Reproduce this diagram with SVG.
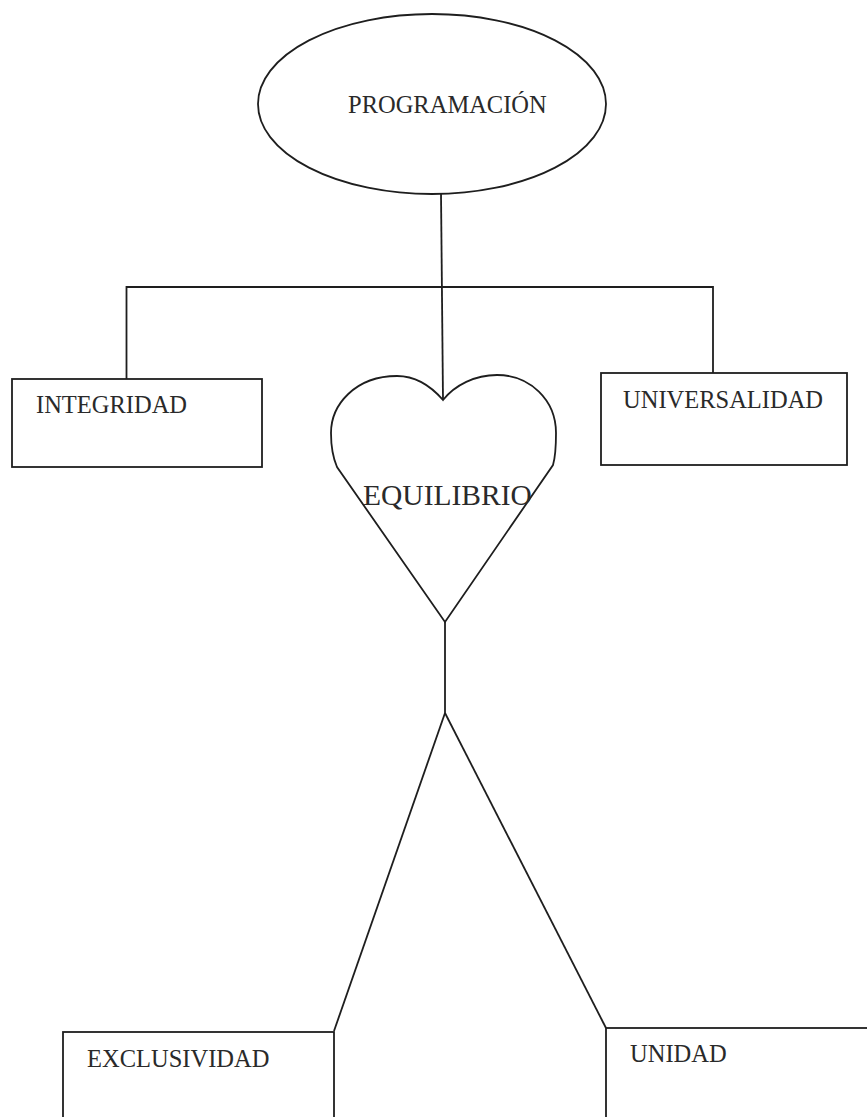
<svg xmlns="http://www.w3.org/2000/svg" width="867" height="1117" viewBox="0 0 867 1117">
<style>
.s{fill:none;stroke:#1e1e1e;stroke-width:1.8;stroke-linejoin:miter}
.t{font-family:"Liberation Serif","Times New Roman",serif;font-size:24.5px;fill:#2a2a2a}
</style>
<rect width="867" height="1117" fill="#ffffff"/>
<g id="connectors">
<line class="s" x1="441" y1="193" x2="443" y2="400"/>
<polyline class="s" points="126.5,379 126.5,287 713,287 713,373"/>
<line class="s" x1="445" y1="622" x2="445" y2="713"/>
<line class="s" x1="445" y1="713" x2="334" y2="1031"/>
<line class="s" x1="445" y1="713" x2="606" y2="1028"/>
</g>
<g id="programacion">
<ellipse class="s" cx="432" cy="104" rx="174" ry="90"/>
<text class="t" x="348" y="113">PROGRAMACIÓN</text>
</g>
<g id="integridad">
<rect class="s" x="12" y="379" width="250" height="88"/>
<text class="t" x="36" y="413">INTEGRIDAD</text>
</g>
<g id="universalidad">
<rect class="s" x="601" y="373" width="246" height="92"/>
<text class="t" x="623" y="408">UNIVERSALIDAD</text>
</g>
<g id="equilibrio">
<path class="s" d="M443 400 C430 385 415 376 397 376 C355 376 331 405 331 433 C331 450 334 460 337 467 L445 622 L553 465 C556 455 556 445 556 433 C556 400 530 375 497 375 C475 375 455 385 443 400 Z"/>
<text class="t" x="363" y="505" style="font-size:29.5px">EQUILIBRIO</text>
</g>
<g id="exclusividad">
<rect class="s" x="63" y="1032" width="271" height="100"/>
<text class="t" x="87" y="1067">EXCLUSIVIDAD</text>
</g>
<g id="unidad">
<rect class="s" x="606" y="1028" width="280" height="100"/>
<text class="t" x="630" y="1062">UNIDAD</text>
</g>
</svg>
